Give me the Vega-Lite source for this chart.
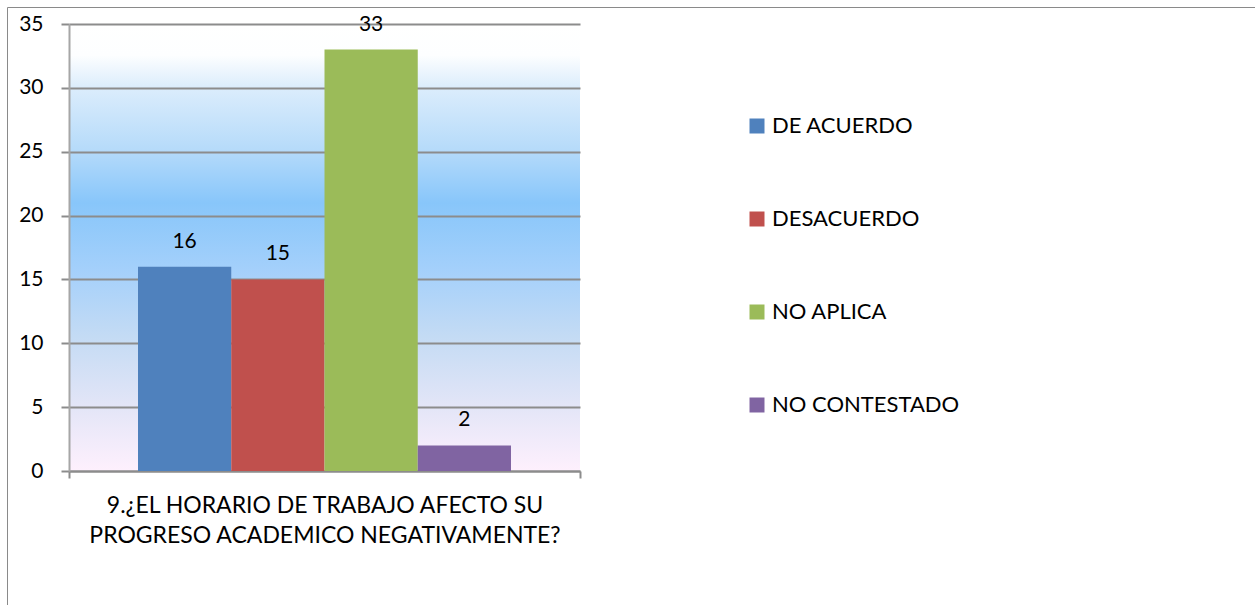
{
  "$schema": "https://vega.github.io/schema/vega-lite/v6.json",
  "width": 511,
  "height": 447,
  "autosize": "none",
  "padding": {"left": 69, "top": 24, "right": 675, "bottom": 134},
  "background": "white",
  "config": {
    "font": "Lato",
    "view": {
      "stroke": null,
      "fill": {
        "gradient": "linear",
        "x1": 0, "y1": 0, "x2": 0, "y2": 1,
        "stops": [
          {"offset": 0, "color": "#ffffff"},
          {"offset": 0.07, "color": "#fdfeff"},
          {"offset": 0.14, "color": "#dcedfc"},
          {"offset": 0.28, "color": "#b6dbfa"},
          {"offset": 0.4, "color": "#88c6fa"},
          {"offset": 0.55, "color": "#a4d0fb"},
          {"offset": 0.7, "color": "#c4dbf4"},
          {"offset": 0.85, "color": "#e2e5f7"},
          {"offset": 1, "color": "#fef0fd"}
        ]
      }
    }
  },
  "data": {
    "values": [
      {"q": "9.¿EL HORARIO DE TRABAJO AFECTO SU|PROGRESO ACADEMICO NEGATIVAMENTE?", "respuesta": "DE ACUERDO", "n": 16},
      {"q": "9.¿EL HORARIO DE TRABAJO AFECTO SU|PROGRESO ACADEMICO NEGATIVAMENTE?", "respuesta": "DESACUERDO", "n": 15},
      {"q": "9.¿EL HORARIO DE TRABAJO AFECTO SU|PROGRESO ACADEMICO NEGATIVAMENTE?", "respuesta": "NO APLICA", "n": 33},
      {"q": "9.¿EL HORARIO DE TRABAJO AFECTO SU|PROGRESO ACADEMICO NEGATIVAMENTE?", "respuesta": "NO CONTESTADO", "n": 2}
    ]
  },
  "encoding": {
    "x": {
      "field": "q",
      "type": "nominal",
      "scale": {"paddingInner": 0, "paddingOuter": 0},
      "axis": {
        "title": null,
        "labelAngle": 0,
        "labelExpr": "split(datum.label, '|')",
        "labelFontSize": 23,
        "labelLineHeight": 30,
        "labelColor": "#000000",
        "labelPadding": 16,
        "tickBand": "extent",
        "tickSize": 7,
        "tickColor": "#8c8c8c",
        "tickWidth": 2,
        "domainColor": "#8c8c8c",
        "domainWidth": 2,
        "labelLimit": 0
      }
    },
    "xOffset": {
      "field": "respuesta",
      "type": "nominal",
      "sort": ["DE ACUERDO", "DESACUERDO", "NO APLICA", "NO CONTESTADO"],
      "scale": {"paddingInner": 0, "paddingOuter": 0.74}
    },
    "y": {
      "field": "n",
      "type": "quantitative",
      "scale": {"domain": [0, 35]},
      "axis": {
        "title": null,
        "values": [0, 5, 10, 15, 20, 25, 30, 35],
        "labelFontSize": 21,
        "labelColor": "#000000",
        "labelPadding": 18,
        "tickSize": 8,
        "tickColor": "#8c8c8c",
        "tickWidth": 2,
        "domainColor": "#a6a6a6",
        "domainWidth": 2,
        "grid": true,
        "gridColor": "#8c8c8c",
        "gridWidth": 2
      }
    }
  },
  "layer": [
    {
      "mark": {"type": "bar"},
      "encoding": {
        "color": {
          "field": "respuesta",
          "type": "nominal",
          "sort": ["DE ACUERDO", "DESACUERDO", "NO APLICA", "NO CONTESTADO"],
          "scale": {"range": ["#4f81bd", "#c0504d", "#9bbb59", "#8064a2"]},
          "legend": {
            "title": null,
            "orient": "none",
            "legendX": 677,
            "legendY": 91,
            "symbolType": "square",
            "symbolSize": 225,
            "symbolStrokeWidth": 0,
            "labelFontSize": 22,
            "labelColor": "#000000",
            "labelOffset": 4,
            "rowPadding": 71,
            "labelLimit": 0
          }
        },
        "strokeDash": {
          "field": "q",
          "type": "nominal",
          "legend": {
            "title": null,
            "orient": "none",
            "legendX": -62,
            "legendY": -17,
            "padding": 700,
            "strokeColor": "#8a8a8a",
            "symbolOpacity": 0,
            "labelOpacity": 0,
            "labelExpr": "''"
          }
        }
      }
    },
    {
      "mark": {"type": "text", "fontSize": 21, "baseline": "alphabetic", "dy": -19, "color": "#000000"},
      "encoding": {
        "text": {"field": "n", "type": "quantitative"}
      }
    }
  ]
}
